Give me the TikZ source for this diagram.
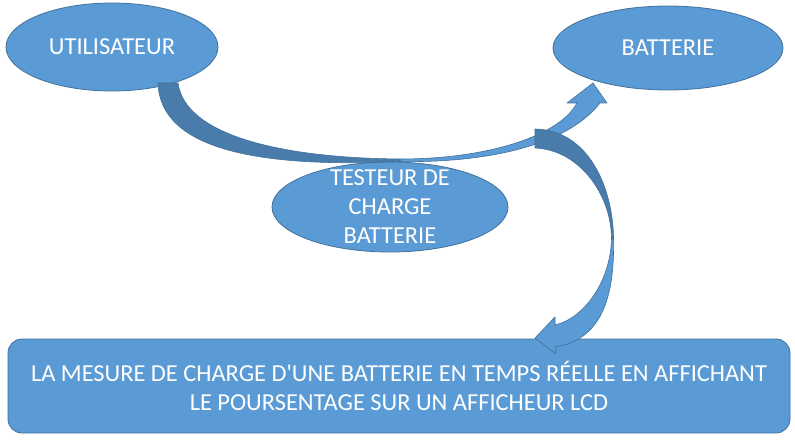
\documentclass[tikz,border=0pt]{standalone}
\usepackage{fontspec}
\setmainfont{Carlito}[Ligatures=TeXOff]
\usetikzlibrary{shapes.geometric}
\definecolor{boxblue}{HTML}{5B9BD5}
\definecolor{boxline}{HTML}{41719C}
\definecolor{backblue}{HTML}{497CAB}

\begin{document}
\begin{tikzpicture}[x=1pt,y=-1pt,
  bubble/.style={ellipse,fill=boxblue,draw=boxline,line width=0.8pt,inner sep=0pt},
  txt/.style={text=white,font=\fontsize{24.4}{29}\selectfont},
  panel/.style={rectangle,rounded corners=14pt,fill=boxblue,draw=boxline,line width=0.8pt,
    minimum width=782pt,minimum height=94pt,inner sep=0pt,align=center},
  front/.style={fill=boxblue,draw=boxline,line width=0.6pt,line join=round},
  back/.style={fill=backblue,draw=boxline,line width=0.6pt,line join=round}]
  \useasboundingbox (0,0) rectangle (795,441);
  % the three ellipses
  \node[bubble,txt,minimum width=212pt,minimum height=88pt] (utilisateur) at (112,47) {UTILISATEUR};
  \node[bubble,txt,minimum width=230pt,minimum height=84pt] (batterie) at (668,48) {BATTERIE};
  \node[bubble,minimum width=236pt,minimum height=90pt] (testeur) at (390,207) {};
  \node[txt,align=center] (testeurtxt) at (testeur.center) {TESTEUR DE\\CHARGE\\BATTERIE};
  % result box
  \node[panel,txt] (mesure) at (399,386)
    {LA MESURE DE CHARGE D'UNE BATTERIE EN TEMPS RÉELLE EN AFFICHANT\\LE POURSENTAGE SUR UN AFFICHEUR LCD};
  % curved arrow utilisateur -> batterie
  \draw[back] (158,83) -- (178,83) .. controls (185,135) and (280,158) .. (400,159)
    -- (400,161.5) .. controls (260,168) and (160,150) .. (158,83) -- cycle;
  \draw[front] (400,159) .. controls (490,159) and (560,135) .. (577,103)
    -- (567,103) -- (593,83) -- (607,103) -- (600,103)
    .. controls (565,148) and (480,163) .. (400,161.5) -- cycle;
  % curved arrow down to the result box
  \draw[back] (535,129) .. controls (590,130) and (613,190) .. (613.5,238)
    -- (611.5,238) .. controls (611,195) and (580,150) .. (535,148) -- cycle;
  \draw[front] (611.5,238) .. controls (611,280) and (585,318) .. (555,325)
    -- (555,317) -- (535,338) -- (556,354) -- (555,347)
    .. controls (600,340) and (615,300) .. (613.5,238) -- cycle;
\end{tikzpicture}
\end{document}
